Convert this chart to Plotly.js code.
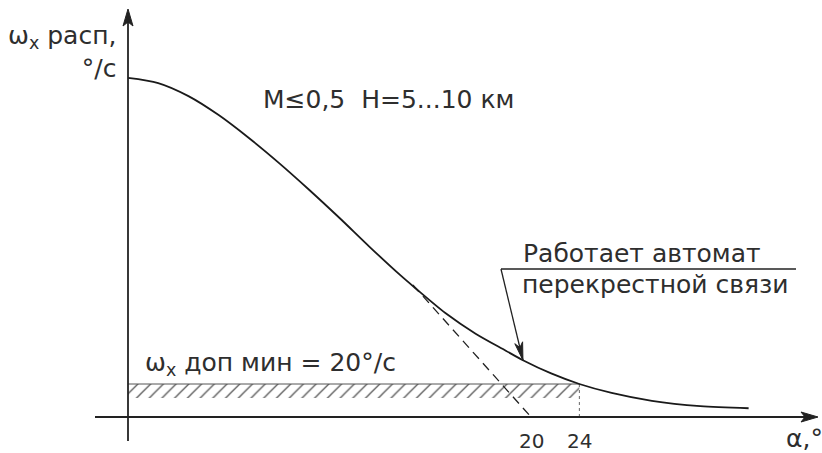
<!DOCTYPE html>
<html><head><meta charset="utf-8">
<script src="https://cdn.plot.ly/plotly-3.0.1.min.js"></script>
<style>html,body{margin:0;padding:0;background:#fff}#chart{width:822px;height:453px}</style>
</head><body><div id="chart"></div>
<script>
// Schematic alpha axis (the figure is not to scale): alpha = 20 deg sits at x = 20
const curveX = [0, 1.5, 3, 4.5, 6, 7.5, 9, 10.5, 12, 13.5, 14.25, 15.75, 17.25, 18.75, 19.6, 21, 22.4, 24, 26, 28.4, 30.8];
const curveY = [205.5, 202.4, 194.5, 183, 169.1, 153.9, 137.6, 120.6, 103, 86.1, 78.2, 63, 50.5, 40.2, 34.4, 26.4, 20, 14.6, 9.8, 6.6, 5.3];
const tangentX = [14.14, 20];
const tangentY = [80, 0];
const omegaMin = 20;      // ωx доп мин, °/c
const alpha24X = 22.4;    // where α = 24° sits on the schematic axis
const tickVals = [20, 22.4];
const tickText = ['20', '24'];
const hatchDepth = 8.5;
const pointerTip = [19.6, 34.4];
const pointerTail = [18.51, 89.7];

const FONT = 'DejaVu Sans, sans-serif';
const TXT = '#2e2e2e';
const INK = '#222';

const traces = [
  { // hatched band
    x: [0, alpha24X, alpha24X, 0, 0],
    y: [omegaMin, omegaMin, omegaMin - hatchDepth, omegaMin - hatchDepth, omegaMin],
    mode: 'lines', fill: 'toself', line: {width: 0, color: 'rgba(0,0,0,0)'},
    fillcolor: 'rgba(255,255,255,0)',
    fillpattern: {shape: '/', fgcolor: '#555', bgcolor: 'white', size: 9, solidity: 0.14},
    hoverinfo: 'skip'
  },
  { x: [0, alpha24X], y: [omegaMin, omegaMin], mode: 'lines', line: {color: '#555', width: 1}, hoverinfo: 'skip' },
  { x: [alpha24X, alpha24X], y: [0, omegaMin], mode: 'lines', line: {color: '#666', width: 1, dash: '3px,3px'}, hoverinfo: 'skip' },
  { x: tangentX, y: tangentY, mode: 'lines', line: {color: INK, width: 1.3, dash: '9px,6px'}, hoverinfo: 'skip' },
  { x: curveX, y: curveY, mode: 'lines', line: {color: '#1a1a1a', width: 1.8, shape: 'spline', smoothing: 0.8}, hoverinfo: 'skip' }
];

const xPx = 20.15, yPx = 1.65;   // pixels per unit
const x0px = 128, y0px = 417;
const px2x = p => (p - x0px) / xPx;
const py2y = p => (y0px - p) / yPx;

const shapes = [
  // x axis
  {type: 'line', x0: px2x(95), x1: px2x(810), y0: 0, y1: 0, line: {color: INK, width: 1.8}},
  // y axis
  {type: 'line', x0: 0, x1: 0, y0: py2y(441), y1: py2y(14), line: {color: INK, width: 1.8}},
  // arrowheads
  {type: 'path', xsizemode: 'pixel', ysizemode: 'pixel', xanchor: px2x(818), yanchor: 0,
   path: 'M0,0 L-17,5 L-13,0 L-17,-5 Z', fillcolor: INK, line: {color: INK, width: 1}},
  {type: 'path', xsizemode: 'pixel', ysizemode: 'pixel', xanchor: 0, yanchor: py2y(9),
   path: 'M0,0 L-5,-17 L0,-13 L5,-17 Z', fillcolor: INK, line: {color: INK, width: 1}},
  // leader line
  {type: 'line', x0: pointerTail[0], x1: px2x(796), y0: pointerTail[1], y1: pointerTail[1], line: {color: INK, width: 1.3}},
  {type: 'line', x0: pointerTail[0], x1: pointerTip[0], y0: pointerTail[1], y1: pointerTip[1], line: {color: INK, width: 1.3}},
  {type: 'path', xsizemode: 'pixel', ysizemode: 'pixel', xanchor: pointerTip[0], yanchor: pointerTip[1],
   path: 'M0,0 L-0.34,18.44 L-3.06,12.64 L-8.12,16.56 Z', fillcolor: INK, line: {color: INK, width: 1}}
];

const ann = (text, x, y, xa, ya, size, extra) => Object.assign({
  text, x, y, xref: 'x', yref: 'y', xanchor: xa, yanchor: ya, showarrow: false,
  font: {family: FONT, size: size, color: TXT}
}, extra || {});

const annotations = [
  ann('ω<sub>x</sub> расп,<br>°/c', px2x(118), py2y(19), 'right', 'top', 25, {align: 'right'}),
  ann('α,°', px2x(784), py2y(438), 'left', 'middle', 25),
  ann('M≤0,5\u00a0\u00a0H=5...10 км', px2x(261), py2y(99), 'left', 'middle', 25),
  ann('Работает автомат', px2x(521), py2y(253), 'left', 'middle', 25),
  ann('перекрестной связи', px2x(520), py2y(284), 'left', 'middle', 25),
  ann('ω<sub>x</sub> доп мин = ' + omegaMin + '°/c', px2x(143), py2y(364), 'left', 'middle', 25)
];
tickVals.forEach((v, i) => annotations.push(ann(tickText[i], v, py2y(441), 'center', 'middle', 20)));

const layout = {
  width: 822, height: 453,
  margin: {l: 0, r: 0, t: 0, b: 0},
  paper_bgcolor: '#fff', plot_bgcolor: '#fff',
  showlegend: false,
  xaxis: {range: [px2x(0), px2x(822)], visible: false, fixedrange: true},
  yaxis: {range: [py2y(453), py2y(0)], visible: false, fixedrange: true},
  shapes, annotations
};

Plotly.newPlot('chart', traces, layout, {staticPlot: true, displayModeBar: false});
</script>
</body></html>
